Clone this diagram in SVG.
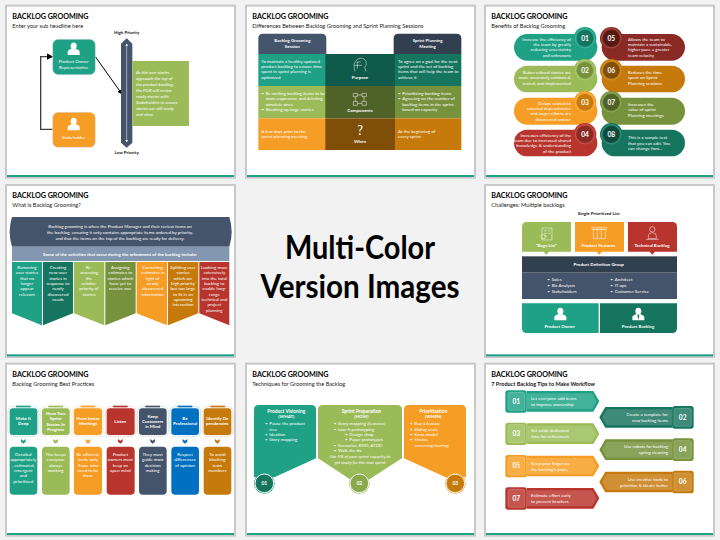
<svg xmlns="http://www.w3.org/2000/svg" width="720" height="540" viewBox="0 0 720 540">
<style>
text{font-family:Lato,"Open Sans","Liberation Sans",sans-serif;fill:#fff;font-size:13.4px}
.t{font-size:21.5px;font-weight:700;fill:#000}
.s{font-size:17px;fill:#222}
.k{fill:#111;font-weight:700}
.b{font-weight:700}
.c{text-anchor:middle}
.r{text-anchor:end}
.i{font-style:italic}
.n{font-size:20px;font-weight:700;text-anchor:middle}
.big{font-size:33px;font-weight:700;fill:#000;text-anchor:middle}
.ol{fill:none;stroke:#fff;stroke-width:1.500}
.teal{fill:#1ea185}.dteal{fill:#16755f}.green{fill:#9bbb59}.olive{fill:#76923c}.orange{fill:#f59d24}.dorange{fill:#c57a0b}.red{fill:#b8352d}.dred{fill:#8a2a24}.navy{fill:#44546a}.dnavy{fill:#323f4f}.blue{fill:#0070c0}.slate{fill:#8497b0}
</style>
<defs>
<g id="card"><rect x="-6" y="-6" width="693" height="522" fill="#c9c9c9"/><rect width="681" height="510" fill="#fff"/><rect y="505" width="681" height="6" fill="#1ea185"/></g>
<g id="person" fill="#fff"><ellipse cx="0" cy="-9" rx="9" ry="10.500"/><path d="M-18,18V8Q-18,3-10,1L-5,-1Q0,3 5,-1L10,1Q18,3 18,8V18Z"/></g>
<marker id="ah" markerWidth="5" markerHeight="5" refX="4" refY="2.500" orient="auto"><path d="M0,0L5,2.500L0,5Z" fill="#000"/></marker>
<marker id="wa" markerWidth="5" markerHeight="5" refX="4" refY="2.500" orient="auto-start-reverse"><path d="M0,0L5,2.500L0,5Z" fill="#fff"/></marker>
<path id="chev" d="M-7,-6L0,-1L7,-6V2L0,8L-7,2Z"/>
<path id="al" d="M140,-31H340L358,0L340,31H140Z"/>
<path id="ali" d="M140,-24H336L350,0L336,24H140Z"/>
<path id="ar" d="M578,-31H376L358,0L376,31H578Z"/>
<path id="ari" d="M578,-24H380L366,0L380,24H578Z"/>
</defs>
<rect width="720" height="540" fill="#f2f2f2"/>

<g id="slide1" transform="scale(.33333)">
<use href="#card" x="21" y="20"/>
<text class="t" x="37" y="56">BACKLOG GROOMING</text>
<text class="s" x="37" y="84">Enter your sub headline here</text>
<g id="connectors">
<path d="M158,388H122V170H156" fill="none" stroke="#404040" stroke-width="4" marker-end="url(#ah)"/>
<path d="M286,170L365,281" fill="none" stroke="#000" stroke-width="3" marker-end="url(#ah)"/>
</g>
<g id="product-owner"><rect x="158" y="118" width="128" height="106" rx="16" class="teal" stroke="#dde" stroke-width="1.500"/><use href="#person" transform="translate(221,147)"/><text class="c" x="221" y="189">Product Owner</text><text class="c" x="221" y="207">Representative</text></g>
<g id="stakeholder"><rect x="158" y="337" width="128" height="105" rx="16" class="orange" stroke="#dde" stroke-width="1.500"/><use href="#person" transform="translate(221,373)"/><text class="c" x="221" y="418">Stakeholder</text></g>
<g id="priority-bar"><path d="M363,131L380,115L397,131V428L380,443L363,428Z" class="navy"/><path d="M380,132V426" stroke="#fff" stroke-width="1.500" fill="none" marker-start="url(#wa)" marker-end="url(#wa)"/></g>
<text class="k c" x="380" y="101">High Priority</text>
<text class="k c" x="380" y="461">Low Priority</text>
<g id="note"><rect x="397" y="183" width="170" height="195" class="green"/>
<text class="i" x="408" y="223">As the user stories</text><text class="i" x="408" y="241">approach the top of</text><text class="i" x="408" y="259">the product backlog,</text><text class="i" x="408" y="277">the POR will review</text><text class="i" x="408" y="295">ready stories with</text><text class="i" x="408" y="313">Stakeholders to ensure</text><text class="i" x="408" y="331">stories are still ready</text><text class="i" x="408" y="349">and clear.</text></g>
</g>

<g id="slide2" transform="translate(240,0) scale(.33333)">
<use href="#card" x="21" y="20"/>
<text class="t" x="37" y="56">BACKLOG GROOMING</text>
<text class="s" x="37" y="84">Differences Between Backlog Grooming and Sprint Planning Sessions</text>
<g id="head-left"><path d="M55,162V115Q55,101 69,101H245Q259,101 259,115V162Z" class="navy"/><text class="c b" x="157" y="127">Backlog Grooming</text><text class="c b" x="157" y="145">Session</text></g>
<g id="head-right"><path d="M461,162V115Q461,101 475,101H650Q664,101 664,115V162Z" class="dnavy"/><text class="c b" x="563" y="127">Sprint Planning</text><text class="c b" x="563" y="145">Meeting</text></g>
<g id="row-purpose"><rect x="55" y="162" width="203" height="96" class="teal"/><rect x="465" y="162" width="199" height="96" class="dteal"/><rect x="256" y="162" width="209" height="96" fill="#0f5a4a"/>
<text x="64" y="188">To maintain a healthy updated</text><text x="64" y="204">product backlog to ensure time</text><text x="64" y="220">spent in sprint planning is</text><text x="64" y="236">optimized</text>
<text x="474" y="188">To agree on a goal for the next</text><text x="474" y="204">sprint and the set of backlog</text><text x="474" y="220">items that will help the team to</text><text x="474" y="236">achieve it</text>
<path class="ol" d="M345,214Q337,190 352,178Q368,168 378,184Q382,196 374,202L378,214" /><path class="ol" d="M350,186H362M344,196H366M352,206V186"/>
<text class="c b" x="360" y="238">Purpose</text></g>
<g id="row-components"><rect x="55" y="258" width="203" height="97" class="green"/><rect x="465" y="258" width="199" height="97" class="olive"/><rect x="256" y="258" width="209" height="97" fill="#4f6228"/>
<text x="64" y="285">•</text><text x="77" y="285">Re-writing backlog items to be</text><text x="77" y="301">more expressive and deleting</text><text x="77" y="317">obsolete ones</text><text x="64" y="333">•</text><text x="77" y="333">Breaking up large stories</text>
<text x="474" y="285">•</text><text x="487" y="285">Prioritizing backlog  items</text><text x="474" y="301">•</text><text x="487" y="301">Agreeing on the number of</text><text x="487" y="317">backlog items in the sprint</text><text x="487" y="333">based on capacity</text>
<path class="ol" d="M340,280h12v10h-12zM366,280h13v10h-13zM340,304h12v12h-12zM366,304h13v12h-13zM352,285h14M352,310h14M346,290v14M372,290v14"/>
<text class="c b" x="360" y="337">Components</text></g>
<g id="row-when"><rect x="55" y="355" width="203" height="95" class="orange"/><rect x="465" y="355" width="199" height="95" class="dorange"/><rect x="256" y="355" width="209" height="95" fill="#7f4f0a"/>
<text x="64" y="399">A few days prior to the</text><text x="64" y="415">sprint planning meeting</text>
<text x="474" y="399">At the beginning of</text><text x="474" y="415">every sprint</text>
<text class="c" x="360" y="406" style="font-size:38px">?</text>
<text class="c b" x="360" y="430">When</text></g>
</g>

<g id="slide3" transform="translate(480,0) scale(.33333)">
<use href="#card" x="18" y="20"/>
<text class="t" x="34" y="56">BACKLOG GROOMING</text>
<text class="s" x="34" y="84">Benefits of Backlog Grooming</text>
<g id="b01"><rect x="102" y="102" width="250" height="80" rx="40" class="teal"/><circle cx="315" cy="115" r="34" class="teal"/><circle cx="315" cy="115" r="29" fill="none" stroke="#fff" stroke-opacity=".5"/><circle cx="315" cy="115" r="25" class="dteal"/><text class="n" x="315" y="122">01</text>
<text class="r" x="273" y="122">Increase the efficiency of</text><text class="r" x="273" y="138">the team by greatly</text><text class="r" x="273" y="154">reducing uncertainty</text><text class="r" x="273" y="170">and unknowns</text></g>
<g id="b02"><rect x="102" y="197" width="250" height="80" rx="40" class="green"/><circle cx="315" cy="211" r="34" class="green"/><circle cx="315" cy="211" r="29" fill="none" stroke="#fff" stroke-opacity=".5"/><circle cx="315" cy="211" r="25" class="olive"/><text class="n" x="315" y="218">02</text>
<text class="r" x="273" y="222">Better refined stories are</text><text class="r" x="273" y="238">more accurately estimated,</text><text class="r" x="273" y="254">tested, and implemented</text></g>
<g id="b03"><rect x="102" y="293" width="250" height="81" rx="40" class="orange"/><circle cx="315" cy="307" r="34" class="orange"/><circle cx="315" cy="307" r="29" fill="none" stroke="#fff" stroke-opacity=".5"/><circle cx="315" cy="307" r="25" class="dorange"/><text class="n" x="315" y="314">03</text>
<text class="r" x="273" y="314">Delays related to</text><text class="r" x="273" y="330">external dependencies</text><text class="r" x="273" y="346">and larger efforts are</text><text class="r" x="273" y="362">discovered sooner</text></g>
<g id="b04"><rect x="102" y="389" width="250" height="80" rx="40" class="red"/><circle cx="315" cy="403" r="34" class="red"/><circle cx="315" cy="403" r="29" fill="none" stroke="#fff" stroke-opacity=".5"/><circle cx="315" cy="403" r="25" class="dred"/><text class="n" x="315" y="410">04</text>
<text class="r" x="273" y="410">Increases efficiency of the</text><text class="r" x="273" y="426">team due to increased shared</text><text class="r" x="273" y="442">knowledge &amp; understanding</text><text class="r" x="273" y="458">of the product</text></g>
<g id="b05"><rect x="365" y="102" width="250" height="80" rx="40" class="dred"/><circle cx="394" cy="115" r="34" class="dred"/><circle cx="394" cy="115" r="29" fill="none" stroke="#fff" stroke-opacity=".5"/><circle cx="394" cy="115" r="25" fill="#561914"/><text class="n" x="394" y="122">05</text>
<text x="444" y="122">Allows the team to</text><text x="444" y="138">maintain a sustainable,</text><text x="444" y="154">higher pace = greater</text><text x="444" y="170">team velocity</text></g>
<g id="b06"><rect x="365" y="197" width="250" height="80" rx="40" class="dorange"/><circle cx="394" cy="211" r="34" class="dorange"/><circle cx="394" cy="211" r="29" fill="none" stroke="#fff" stroke-opacity=".5"/><circle cx="394" cy="211" r="25" fill="#7f4f0a"/><text class="n" x="394" y="218">06</text>
<text x="444" y="222">Reduces the time</text><text x="444" y="238">spent on Sprint</text><text x="444" y="254">Planning sessions</text></g>
<g id="b07"><rect x="365" y="293" width="250" height="81" rx="40" class="olive"/><circle cx="394" cy="307" r="34" class="olive"/><circle cx="394" cy="307" r="29" fill="none" stroke="#fff" stroke-opacity=".5"/><circle cx="394" cy="307" r="25" fill="#4f6228"/><text class="n" x="394" y="314">07</text>
<text x="444" y="318">Increases the</text><text x="444" y="334">value of sprint</text><text x="444" y="350">Planning meetings</text></g>
<g id="b08"><rect x="365" y="389" width="250" height="80" rx="40" class="dteal"/><circle cx="394" cy="403" r="34" class="dteal"/><circle cx="394" cy="403" r="29" fill="none" stroke="#fff" stroke-opacity=".5"/><circle cx="394" cy="403" r="25" fill="#0f4a3d"/><text class="n" x="394" y="410">08</text>
<text x="444" y="418">This is a sample text</text><text x="444" y="434">that you can edit.  You</text><text x="444" y="450">can change font...</text></g>
</g>

<g id="slide4" transform="translate(0,180) scale(.33333)">
<use href="#card" x="21" y="18"/>
<text class="t" x="37" y="53">BACKLOG GROOMING</text>
<text class="s" x="37" y="80">What is Backlog Grooming?</text>
<g id="banner"><path d="M36,111H688Q702,155 688,200H36Q22,155 36,111Z" class="navy"/>
<text class="c" x="360" y="143">Backlog grooming is when the Product Manager and their review items on</text><text class="c" x="360" y="161">the backlog, ensuring it only contains appropriate items ordered by priority,</text><text class="c" x="360" y="179">and that the items on the top of the backlog are ready for delivery.</text></g>
<g id="subbanner"><rect x="36" y="200" width="652" height="43" class="slate"/><text class="c b" x="360" y="227">Some of the activities that occur during the refinement of the backlog include:</text></g>
<g id="a1"><path d="M36,246H126V436L36,400Z" class="teal"/><text class="c" x="81" y="267">Removing</text><text class="c" x="81" y="283">user stories</text><text class="c" x="81" y="299">that no</text><text class="c" x="81" y="315">longer</text><text class="c" x="81" y="331">appear</text><text class="c" x="81" y="347">relevant</text></g>
<g id="a2"><path d="M129,246H219V400L129,436Z" class="dteal"/><text class="c" x="174" y="267">Creating</text><text class="c" x="174" y="283">new user</text><text class="c" x="174" y="299">stories in</text><text class="c" x="174" y="315">response to</text><text class="c" x="174" y="331">newly</text><text class="c" x="174" y="347">discovered</text><text class="c" x="174" y="363">needs</text></g>
<g id="a3"><path d="M222,246H313V436L222,400Z" class="green"/><text class="c" x="267" y="267">Re-</text><text class="c" x="267" y="283">assessing</text><text class="c" x="267" y="299">the</text><text class="c" x="267" y="315">relative</text><text class="c" x="267" y="331">priority of</text><text class="c" x="267" y="347">stories</text></g>
<g id="a4"><path d="M316,246H407V400L316,436Z" class="olive"/><text class="c" x="361" y="267">Assigning</text><text class="c" x="361" y="283">estimates to</text><text class="c" x="361" y="299">stories which</text><text class="c" x="361" y="315">have yet to</text><text class="c" x="361" y="331">receive one</text></g>
<g id="a5"><path d="M410,246H501V436L410,400Z" class="orange"/><text class="c" x="458" y="267">Correcting</text><text class="c" x="458" y="283">estimates in</text><text class="c" x="458" y="299">light of</text><text class="c" x="458" y="315">newly</text><text class="c" x="458" y="331">discovered</text><text class="c" x="458" y="347">information</text></g>
<g id="a6"><path d="M504,246H595V400L504,436Z" class="dorange"/><text class="c" x="549" y="267">Splitting user</text><text class="c" x="549" y="283">stories</text><text class="c" x="549" y="299">which are</text><text class="c" x="549" y="315">high priority</text><text class="c" x="549" y="331">but too large</text><text class="c" x="549" y="347">to fit in an</text><text class="c" x="549" y="363">upcoming</text><text class="c" x="549" y="379">interaction</text></g>
<g id="a7"><path d="M598,246H688V436L598,400Z" class="red"/><text class="c" x="643" y="267">Looking more</text><text class="c" x="643" y="283">extensively</text><text class="c" x="643" y="299">into the total</text><text class="c" x="643" y="315">backlog to</text><text class="c" x="643" y="331">enable long-</text><text class="c" x="643" y="347">range</text><text class="c" x="643" y="363">technical and</text><text class="c" x="643" y="379">project</text><text class="c" x="643" y="395">planning</text></g>
</g>

<g id="center-title">
<text class="big" x="360" y="259" textLength="150" lengthAdjust="spacingAndGlyphs">Multi-Color</text>
<text class="big" x="360" y="298" textLength="199" lengthAdjust="spacingAndGlyphs">Version Images</text>
</g>

<g id="slide5" transform="translate(480,180) scale(.33333)">
<use href="#card" x="18" y="18"/>
<text class="t" x="34" y="53">BACKLOG GROOMING</text>
<text class="s" x="34" y="80">Challenges: Multiple backlogs</text>
<text class="k c" x="356" y="106">Single Prioritized List</text>
<g id="bugs"><path d="M126,215V140Q126,126 140,126H273V215H207L199,224L191,215Z" class="green"/><path class="ol" d="M186,144h30v36h-30zM192,152h8M192,160h8M192,168h8M205,152h6M205,160h6"/><circle cx="190" cy="170" r="7" class="ol"/><text class="c b" x="199" y="200">"Bugs List"</text></g>
<g id="features"><path d="M285,126H432V215H366L358,224L350,215H285Z" class="orange"/><path class="ol" d="M340,148h36v28h-36zM336,142h44v6h-44zM352,142v34M364,142v34"/><text class="c b" x="355" y="200">Product Features</text></g>
<g id="technical"><path d="M444,126H577Q591,126 591,140V215H525L517,224L509,215H444Z" class="red"/><circle cx="517" cy="148" r="8" class="ol"/><path class="ol" d="M505,168Q505,158 517,158Q529,158 529,168V176H505ZM498,178H536"/><text class="c b" x="516" y="200">Technical Backlog</text></g>
<g id="definition"><rect x="126" y="229" width="465" height="49" class="dnavy"/><rect x="126" y="278" width="465" height="79" class="navy"/><text class="c b" x="356" y="257">Product Definition Group</text>
<text x="202" y="302">•</text><text x="215" y="302">Sales</text><text x="202" y="320">•</text><text x="215" y="320">Biz Analysts</text><text x="202" y="338">•</text><text x="215" y="338">Stakeholders</text>
<text x="391" y="302">•</text><text x="404" y="302">Architect</text><text x="391" y="320">•</text><text x="404" y="320">IT ops</text><text x="391" y="338">•</text><text x="404" y="338">Customer Service</text></g>
<g id="owner"><path d="M126,370H356V459H140Q126,459 126,445Z" class="teal"/><use href="#person" transform="translate(241,403)"/><text class="c b" x="239" y="443">Product Owner</text></g>
<g id="backlog"><path d="M360,370H591V445Q591,459 577,459H360Z" class="dteal"/><use href="#person" transform="translate(475,403)"/><path d="M475,403l-3,4 3,12 3,-12Z" class="dteal"/><text class="c b" x="474" y="443">Product Backlog</text></g>
</g>

<g id="slide6" transform="translate(0,360) scale(.33333)">
<use href="#card" x="21" y="14"/>
<text class="t" x="37" y="50">BACKLOG GROOMING</text>
<text class="s" x="37" y="77">Backlog Grooming Best Practices</text>
<g id="p1"><rect x="24" y="140" width="92" height="89" rx="14" fill="#fff" stroke="#b9e0d6" stroke-width="2"/><rect x="48" y="137" width="44" height="5" class="teal"/><rect x="29" y="145" width="83" height="80" rx="10" class="teal"/><text class="c b" x="70" y="180">Make It</text><text class="c b" x="70" y="196">Deep</text><use href="#chev" class="teal" transform="translate(70,243)"/><rect x="29" y="260" width="83" height="144" rx="12" class="teal"/><text class="c" x="70" y="288">Detailed</text><text class="c" x="70" y="304">appropriately</text><text class="c" x="70" y="320">, estimated,</text><text class="c" x="70" y="336">emergent</text><text class="c" x="70" y="352">and</text><text class="c" x="70" y="368">prioritized</text></g>
<g id="p2"><rect x="121" y="140" width="92" height="89" rx="14" fill="#fff" stroke="#dfe9c8" stroke-width="2"/><rect x="145" y="137" width="44" height="5" class="green"/><rect x="126" y="145" width="83" height="80" rx="10" class="green"/><text class="c b" x="167" y="165">Have Two</text><text class="c b" x="167" y="181">Sprint</text><text class="c b" x="167" y="197">Stories In</text><text class="c b" x="167" y="213">Progress</text><use href="#chev" class="green" transform="translate(167,243)"/><rect x="126" y="260" width="83" height="144" rx="12" class="green"/><text class="c" x="167" y="288">This keeps</text><text class="c" x="167" y="304">everyone</text><text class="c" x="167" y="320">always</text><text class="c" x="167" y="336">working</text></g>
<g id="p3"><rect x="218" y="140" width="92" height="89" rx="14" fill="#fff" stroke="#fbe0bb" stroke-width="2"/><rect x="242" y="137" width="44" height="5" class="orange"/><rect x="222" y="145" width="84" height="80" rx="10" class="orange"/><text class="c b" x="264" y="180">Have better</text><text class="c b" x="264" y="196">Meetings</text><use href="#chev" class="orange" transform="translate(264,243)"/><rect x="222" y="260" width="84" height="144" rx="12" class="orange"/><text class="c" x="264" y="288">Be efficient,</text><text class="c" x="264" y="304">invite only</text><text class="c" x="264" y="320">those who</text><text class="c" x="264" y="336">need to be</text><text class="c" x="264" y="352">there</text></g>
<g id="p4"><rect x="316" y="140" width="92" height="89" rx="14" fill="#fff" stroke="#ecc4c1" stroke-width="2"/><rect x="339" y="137" width="44" height="5" class="red"/><rect x="320" y="145" width="84" height="80" rx="10" class="red"/><text class="c b" x="361" y="189">Listen</text><use href="#chev" class="red" transform="translate(361,243)"/><rect x="320" y="260" width="84" height="144" rx="12" class="red"/><text class="c" x="361" y="288">Product</text><text class="c" x="361" y="304">owners must</text><text class="c" x="361" y="320">keep an</text><text class="c" x="361" y="336">open mind</text></g>
<g id="p5"><rect x="413" y="140" width="92" height="89" rx="14" fill="#fff" stroke="#ccd2da" stroke-width="2"/><rect x="436" y="137" width="44" height="5" class="navy"/><rect x="417" y="145" width="83" height="80" rx="10" class="navy"/><text class="c b" x="458" y="173">Keep</text><text class="c b" x="458" y="189">Customers</text><text class="c b" x="458" y="205">in Mind</text><use href="#chev" class="navy" transform="translate(458,243)"/><rect x="417" y="260" width="83" height="144" rx="12" class="navy"/><text class="c" x="458" y="288">They must</text><text class="c" x="458" y="304">guide most</text><text class="c" x="458" y="320">decision</text><text class="c" x="458" y="336">making</text></g>
<g id="p6"><rect x="510" y="140" width="92" height="89" rx="14" fill="#fff" stroke="#b5d5ec" stroke-width="2"/><rect x="533" y="137" width="44" height="5" class="blue"/><rect x="514" y="145" width="83" height="80" rx="10" class="blue"/><text class="c b" x="555" y="180">Be</text><text class="c b" x="555" y="196">Professional</text><use href="#chev" class="blue" transform="translate(555,243)"/><rect x="514" y="260" width="83" height="144" rx="12" class="blue"/><text class="c" x="555" y="288">Respect</text><text class="c" x="555" y="304">differences</text><text class="c" x="555" y="320">of opinion</text></g>
<g id="p7"><rect x="607" y="140" width="92" height="89" rx="14" fill="#fff" stroke="#ecd5b2" stroke-width="2"/><rect x="631" y="137" width="44" height="5" class="dorange"/><rect x="611" y="145" width="83" height="80" rx="10" class="dorange"/><text class="c b" x="652" y="180">Identify De</text><text class="c b" x="652" y="196">pendencies</text><use href="#chev" class="dorange" transform="translate(652,243)"/><rect x="611" y="260" width="83" height="144" rx="12" class="dorange"/><text class="c" x="652" y="288">To avoid</text><text class="c" x="652" y="304">blocking</text><text class="c" x="652" y="320">team</text><text class="c" x="652" y="336">members</text></g>
</g>

<g id="slide7" transform="translate(240,360) scale(.33333)">
<use href="#card" x="21" y="14"/>
<text class="t" x="37" y="50">BACKLOG GROOMING</text>
<text class="s" x="37" y="77">Techniques for Grooming the Backlog</text>
<g id="t1"><path d="M42,149Q42,135 56,135H214Q228,135 228,149V295L103,352H42Z" class="teal"/><circle cx="73" cy="370" r="31" class="teal"/><circle cx="73" cy="370" r="28" class="dteal" stroke="#fff" stroke-width="3"/><text class="n" x="73" y="376" style="font-size:15px">01</text>
<text class="c b" x="139" y="158" style="font-size:14.500px">Product Visioning</text><text class="c b" x="139" y="175">(WHAT)</text>
<text x="75" y="196">•</text><text x="88" y="196">Pause the product</text><text x="88" y="212">tree</text><text x="75" y="228">•</text><text x="88" y="228">Ideation</text><text x="75" y="244">•</text><text x="88" y="244">Story mapping</text></g>
<g id="t2"><path d="M234,149Q234,135 248,135H472Q486,135 486,149V295L388,358H330L234,295Z" class="green"/><circle cx="358" cy="370" r="31" class="green"/><circle cx="358" cy="370" r="28" stroke="#fff" stroke-width="3" fill="#8aa84c"/><text class="n" x="358" y="376" style="font-size:15px">02</text>
<text class="c b" x="364" y="158" style="font-size:14.500px">Sprint Preparation</text><text class="c b" x="364" y="175">(HOW)</text>
<text x="281" y="196">•</text><text x="294" y="196">Story mapping (features)</text><text x="281" y="212">•</text><text x="294" y="212">Low-fi prototyping</text><text x="315" y="228">•</text><text x="328" y="228">Design shop</text><text x="315" y="244">•</text><text x="328" y="244">Paper prototypes</text><text x="281" y="260">•</text><text x="294" y="260">Scenarios, BDD, ATDD</text><text x="281" y="275">•</text><text x="294" y="275">Walk the do</text>
<text class="i c" x="360" y="295">Use 5% of your sprint capacity to</text><text class="i c" x="360" y="311">get ready for the next sprint</text></g>
<g id="t3"><path d="M492,149Q492,135 506,135H664Q678,135 678,149V352H617L492,295Z" class="orange"/><circle cx="646" cy="370" r="31" class="orange"/><circle cx="646" cy="370" r="28" class="dorange" stroke="#fff" stroke-width="3"/><text class="n" x="646" y="376" style="font-size:15px">03</text>
<text class="c b" x="580" y="158" style="font-size:14.500px">Prioritization</text><text class="c b" x="580" y="175">(WHEN)</text>
<text x="510" y="196">•</text><text x="523" y="196">Buy a feature</text><text x="510" y="212">•</text><text x="523" y="212">Sliding scale</text><text x="510" y="228">•</text><text x="523" y="228">Kano model</text><text x="510" y="244">•</text><text x="523" y="244">Theme</text><text x="523" y="260">screening/scoring</text></g>
</g>

<g id="slide8" transform="translate(480,360) scale(.33333)">
<use href="#card" x="18" y="14"/>
<text class="t" x="34" y="50">BACKLOG GROOMING</text>
<text class="s b" x="34" y="77" style="fill:#111;font-size:16.600px">7 Product Backlog Tips to Make Workflow</text>
<g id="tip1" transform="translate(0,124)"><use href="#al" class="teal"/><use href="#ali" fill="#43b29a"/><rect x="76" y="-33" width="64" height="67" rx="8" class="teal"/><rect x="84" y="-27" width="50" height="54" rx="6" fill="#43b29a" stroke="#bfe5dc"/><text class="n" x="109" y="7">01</text><text x="153" y="-4">Let everyone add items</text><text x="153" y="14">to improve ownership</text></g>
<g id="tip2" transform="translate(0,172)"><use href="#ar" class="dteal"/><use href="#ari" fill="#3f8a78"/><rect x="577" y="-34" width="64" height="68" rx="8" class="dteal"/><rect x="582" y="-27" width="52" height="54" rx="6" fill="#3f8a78" stroke="#a5cfc5"/><text class="n" x="608" y="7">02</text><text class="r" x="564" y="-4">Create a template for</text><text class="r" x="564" y="14">new backlog items</text></g>
<g id="tip3" transform="translate(0,221)"><use href="#al" class="green"/><use href="#ali" fill="#aac771"/><rect x="76" y="-33" width="64" height="67" rx="8" class="green"/><rect x="84" y="-27" width="50" height="54" rx="6" fill="#aac771" stroke="#e0ebc8"/><text class="n" x="109" y="7">03</text><text x="153" y="-4">Set aside dedicated</text><text x="153" y="14">time for refinement</text></g>
<g id="tip4" transform="translate(0,269)"><use href="#ar" class="olive"/><use href="#ari" fill="#8aa35a"/><rect x="577" y="-34" width="64" height="68" rx="8" class="olive"/><rect x="582" y="-27" width="52" height="54" rx="6" fill="#8aa35a" stroke="#c8d7ac"/><text class="n" x="608" y="7">04</text><text class="r" x="564" y="-4">Use robots for backlog</text><text class="r" x="564" y="14">spring cleaning</text></g>
<g id="tip5" transform="translate(0,318)"><use href="#al" class="orange"/><use href="#ali" fill="#f8ad45"/><rect x="76" y="-33" width="64" height="67" rx="8" class="orange"/><rect x="84" y="-27" width="50" height="54" rx="6" fill="#f8ad45" stroke="#fde0b4"/><text class="n" x="109" y="7">05</text><text x="153" y="-4">Keep your finger on</text><text x="153" y="14">the backlog's pulse</text></g>
<g id="tip6" transform="translate(0,366)"><use href="#ar" class="dorange"/><use href="#ari" fill="#cf8f35"/><rect x="577" y="-34" width="64" height="68" rx="8" class="dorange"/><rect x="582" y="-27" width="52" height="54" rx="6" fill="#cf8f35" stroke="#e8c999"/><text class="n" x="608" y="7">06</text><text class="r" x="564" y="-4">Use creative tools to</text><text class="r" x="564" y="14">prioritize &amp; ideate better</text></g>
<g id="tip7" transform="translate(0,415)"><use href="#al" class="red"/><use href="#ali" fill="#c5564f"/><rect x="76" y="-33" width="64" height="67" rx="8" class="red"/><rect x="84" y="-27" width="50" height="54" rx="6" fill="#c5564f" stroke="#e6b4b0"/><text class="n" x="109" y="7">07</text><text x="153" y="-4">Estimate effort early</text><text x="153" y="14">to prevent brackers</text></g>
</g>
</svg>
